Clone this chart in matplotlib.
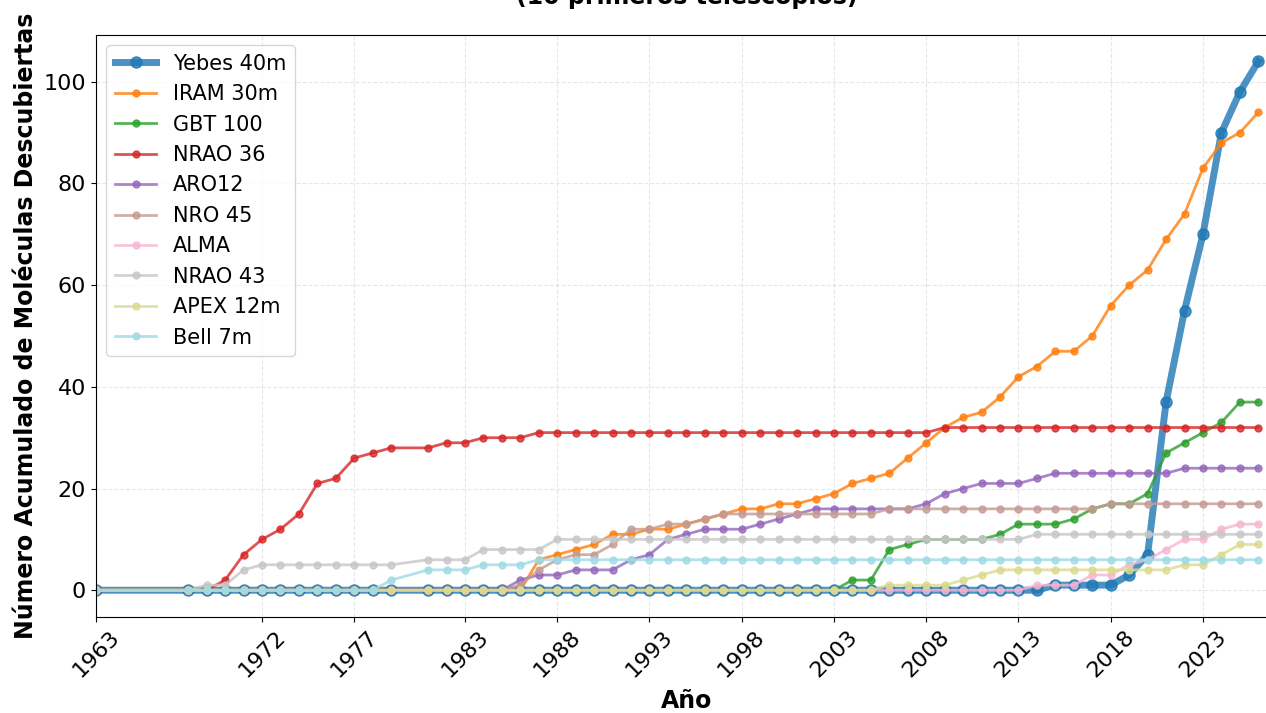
import matplotlib
matplotlib.use("Agg")
import matplotlib.pyplot as plt
import numpy as np

# años con datos (faltan 1964-1967 y 1980)
years = [1963] + list(range(1968, 1980)) + list(range(1981, 2027))

telescopes = ["Yebes 40m", "IRAM 30m", "GBT 100", "NRAO 36", "ARO12",
              "NRO 45", "ALMA", "NRAO 43", "APEX 12m", "Bell 7m"]

# filas: 1963,1968-1979 | 1981-1990 | 1991-2000 | 2001-2010 | 2011-2020 | 2021-2026
yebes = [0, 0, 0, 0, 0, 0, 0, 0, 0, 0, 0, 0, 0,
         0, 0, 0, 0, 0, 0, 0, 0, 0, 0,
         0, 0, 0, 0, 0, 0, 0, 0, 0, 0,
         0, 0, 0, 0, 0, 0, 0, 0, 0, 0,
         0, 0, 0, 0, 1, 1, 1, 1, 3, 7,
         37, 55, 70, 90, 98, 104]
iram = [0, 0, 0, 0, 0, 0, 0, 0, 0, 0, 0, 0, 0,
        0, 0, 0, 0, 0, 0, 6, 7, 8, 9,
        11, 11, 12, 12, 13, 14, 15, 16, 16, 17,
        17, 18, 19, 21, 22, 23, 26, 29, 32, 34,
        35, 38, 42, 44, 47, 47, 50, 56, 60, 63,
        69, 74, 83, 88, 90, 94]
gbt = [0, 0, 0, 0, 0, 0, 0, 0, 0, 0, 0, 0, 0,
       0, 0, 0, 0, 0, 0, 0, 0, 0, 0,
       0, 0, 0, 0, 0, 0, 0, 0, 0, 0,
       0, 0, 0, 2, 2, 8, 9, 10, 10, 10,
       10, 11, 13, 13, 13, 14, 16, 17, 17, 19,
       27, 29, 31, 33, 37, 37]
nrao36 = [0, 0, 0, 2, 7, 10, 12, 15, 21, 22, 26, 27, 28,
          28, 29, 29, 30, 30, 30, 31, 31, 31, 31,
          31, 31, 31, 31, 31, 31, 31, 31, 31, 31,
          31, 31, 31, 31, 31, 31, 31, 31, 32, 32,
          32, 32, 32, 32, 32, 32, 32, 32, 32, 32,
          32, 32, 32, 32, 32, 32]
aro12 = [0, 0, 0, 0, 0, 0, 0, 0, 0, 0, 0, 0, 0,
         0, 0, 0, 0, 0, 2, 3, 3, 4, 4,
         4, 6, 7, 10, 11, 12, 12, 12, 13, 14,
         15, 16, 16, 16, 16, 16, 16, 17, 19, 20,
         21, 21, 21, 22, 23, 23, 23, 23, 23, 23,
         23, 24, 24, 24, 24, 24]
nro45 = [0, 0, 0, 0, 0, 0, 0, 0, 0, 0, 0, 0, 0,
         0, 0, 0, 0, 0, 1, 4, 6, 7, 7,
         9, 12, 12, 13, 13, 14, 15, 15, 15, 15,
         15, 15, 15, 15, 15, 16, 16, 16, 16, 16,
         16, 16, 16, 16, 16, 16, 16, 17, 17, 17,
         17, 17, 17, 17, 17, 17]
alma = [0, 0, 0, 0, 0, 0, 0, 0, 0, 0, 0, 0, 0,
        0, 0, 0, 0, 0, 0, 0, 0, 0, 0,
        0, 0, 0, 0, 0, 0, 0, 0, 0, 0,
        0, 0, 0, 0, 0, 0, 0, 0, 0, 0,
        0, 0, 0, 1, 1, 1, 3, 3, 5, 6,
        8, 10, 10, 12, 13, 13]
nrao43 = [0, 0, 1, 1, 4, 5, 5, 5, 5, 5, 5, 5, 5,
          6, 6, 6, 8, 8, 8, 8, 10, 10, 10,
          10, 10, 10, 10, 10, 10, 10, 10, 10, 10,
          10, 10, 10, 10, 10, 10, 10, 10, 10, 10,
          10, 10, 10, 11, 11, 11, 11, 11, 11, 11,
          11, 11, 11, 11, 11, 11]
apex = [0, 0, 0, 0, 0, 0, 0, 0, 0, 0, 0, 0, 0,
        0, 0, 0, 0, 0, 0, 0, 0, 0, 0,
        0, 0, 0, 0, 0, 0, 0, 0, 0, 0,
        0, 0, 0, 0, 0, 1, 1, 1, 1, 2,
        3, 4, 4, 4, 4, 4, 4, 4, 4, 4,
        4, 5, 5, 7, 9, 9]
bell = [0, 0, 0, 0, 0, 0, 0, 0, 0, 0, 0, 0, 2,
        4, 4, 4, 5, 5, 5, 6, 6, 6, 6,
        6, 6, 6, 6, 6, 6, 6, 6, 6, 6,
        6, 6, 6, 6, 6, 6, 6, 6, 6, 6,
        6, 6, 6, 6, 6, 6, 6, 6, 6, 6,
        6, 6, 6, 6, 6, 6]

series = [yebes, iram, gbt, nrao36, aro12, nro45, alma, nrao43, apex, bell]
tick_years = years[::5]

fig = plt.figure(figsize=(12.66, 7.13), dpi=100)
ax = fig.add_axes([0.0758, 0.1351, 0.9327, 0.8158])

colors = plt.cm.tab20(np.linspace(0, 1, 10))
for i, (name, vals) in enumerate(zip(telescopes, series)):
    if i == 0:
        ax.plot(years, vals, marker="o", linewidth=5, markersize=8,
                color=colors[i], alpha=0.8, label=name)
    else:
        ax.plot(years, vals, marker="o", linewidth=2, markersize=5,
                color=colors[i], alpha=0.8, label=name)

ax.set_xlim(1963, 2027)
ax.set_ylim(-5.2, 109.2)
ax.set_xticks(tick_years)
ax.set_xticklabels([str(y) for y in tick_years], rotation=45)
ax.tick_params(labelsize=16)
ax.grid(True, alpha=0.3, linestyle="--")

ax.set_xlabel("Año", fontsize=17, fontweight="bold", labelpad=6)
ax.set_ylabel("Número Acumulado de Moléculas Descubiertas", fontsize=17,
              fontweight="bold")
ax.set_title("(10 primeros telescopios)", fontsize=17, fontweight="bold", pad=22)
ax.legend(loc="upper left", fontsize=15)

fig.savefig("out.png", dpi=100)
